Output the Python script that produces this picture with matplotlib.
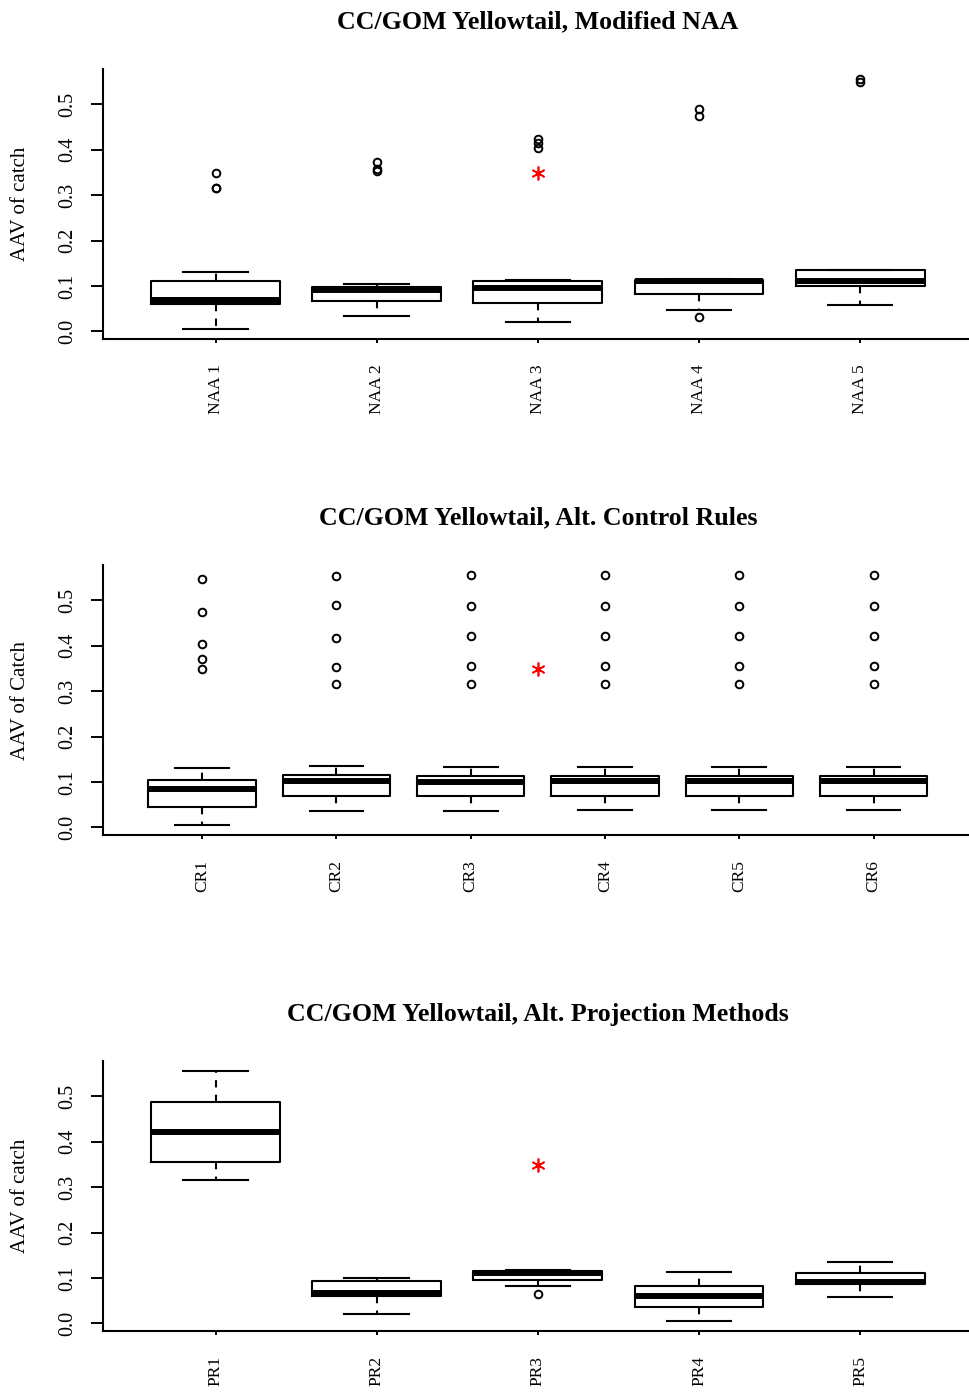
import matplotlib
matplotlib.use("Agg")
import matplotlib.pyplot as plt

plt.rcParams['font.family'] = ['Liberation Serif', 'DejaVu Serif']

# ---- data -------------------------------------------------------------
naa_labels = ["NAA 1", "NAA 2", "NAA 3", "NAA 4", "NAA 5"]
naa_whislo = [0.006, 0.034, 0.021, 0.046, 0.059]
naa_q1 = [0.060, 0.067, 0.062, 0.083, 0.100]
naa_med = [0.068, 0.092, 0.095, 0.110, 0.1115]
naa_q3 = [0.111, 0.097, 0.111, 0.114, 0.134]
naa_whishi = [0.131, 0.105, 0.112, 0.116, 0.136]
naa_fliers = [[0.348, 0.316, 0.315],
              [0.372, 0.358, 0.354],
              [0.423, 0.416, 0.405],
              [0.490, 0.475, 0.032],
              [0.557, 0.549]]

cr_labels = ["CR1", "CR2", "CR3", "CR4", "CR5", "CR6"]
cr_whislo = [0.004, 0.035, 0.036, 0.037, 0.037, 0.037]
cr_q1 = [0.044, 0.068, 0.068, 0.068, 0.068, 0.068]
cr_med = [0.084, 0.101, 0.100, 0.101, 0.101, 0.101]
cr_q3 = [0.104, 0.115, 0.112, 0.112, 0.112, 0.112]
cr_whishi = [0.130, 0.135, 0.133, 0.132, 0.132, 0.132]
cr_fliers = [[0.547, 0.474, 0.404, 0.371, 0.349],
             [0.554, 0.489, 0.418, 0.353, 0.315],
             [0.556, 0.487, 0.421, 0.356, 0.315],
             [0.556, 0.487, 0.421, 0.356, 0.315],
             [0.556, 0.487, 0.421, 0.356, 0.315],
             [0.556, 0.487, 0.421, 0.356, 0.315]]

pr_labels = ["PR1", "PR2", "PR3", "PR4", "PR5"]
pr_whislo = [0.316, 0.0205, 0.083, 0.004, 0.058]
pr_q1 = [0.356, 0.060, 0.0955, 0.036, 0.0865]
pr_med = [0.422, 0.066, 0.110, 0.060, 0.091]
pr_q3 = [0.487, 0.093, 0.116, 0.082, 0.110]
pr_whishi = [0.557, 0.100, 0.117, 0.112, 0.135]
pr_fliers = [[], [], [0.0655], [], []]

# reference value marked with a red asterisk in every panel
ref_value = 0.348

panels = [
    ("CC/GOM Yellowtail, Modified NAA", "AAV of catch", naa_labels,
     naa_whislo, naa_q1, naa_med, naa_q3, naa_whishi, naa_fliers),
    ("CC/GOM Yellowtail, Alt. Control Rules", "AAV of Catch", cr_labels,
     cr_whislo, cr_q1, cr_med, cr_q3, cr_whishi, cr_fliers),
    ("CC/GOM Yellowtail, Alt. Projection Methods", "AAV of catch", pr_labels,
     pr_whislo, pr_q1, pr_med, pr_q3, pr_whishi, pr_fliers),
]

# ---- layout -----------------------------------------------------------
W, H = 969, 1393
fig = plt.figure(figsize=(W / 100, H / 100), dpi=100)
fig.patch.set_facecolor("white")

left_px, right_px = 102.7, 973.0
tops_px = [69, 565, 1061]
panel_h_px = 270

lw = 1.5
for (title, ylab, labels, wlo, q1, med, q3, whi, fl), top in zip(panels, tops_px):
    ax = fig.add_axes([left_px / W, (H - top - panel_h_px) / H,
                       (right_px - left_px) / W, panel_h_px / H])
    n = len(labels)
    stats = []
    for i in range(n):
        stats.append(dict(whislo=wlo[i], q1=q1[i], med=med[i], q3=q3[i],
                          whishi=whi[i], fliers=fl[i], label=labels[i]))
    pos = list(range(1, n + 1))
    ax.bxp(stats, positions=pos, widths=0.8, capwidths=0.4,
           boxprops=dict(color="black", linewidth=lw),
           medianprops=dict(color="black", linewidth=4.3, solid_capstyle="butt"),
           whiskerprops=dict(color="black", linewidth=lw, linestyle=(0, (3.5, 3.5))),
           capprops=dict(color="black", linewidth=lw),
           flierprops=dict(marker="o", markersize=5.5, markerfacecolor="none",
                           markeredgecolor="black", markeredgewidth=1.4,
                           linestyle="none"))
    ax.plot([(n + 1) / 2], [ref_value], linestyle="none", marker=(6, 2, 0),
            markersize=10, markeredgewidth=1.2, color="red")

    ax.set_xlim(0.5 - 0.04 * n, n + 0.5 + 0.04 * n)
    ax.set_ylim(-0.017, 0.578)
    ax.set_yticks([0.0, 0.1, 0.2, 0.3, 0.4, 0.5])
    ax.set_yticklabels(["0.0", "0.1", "0.2", "0.3", "0.4", "0.5"])
    ax.set_xticks(pos)
    ax.set_xticklabels(labels)

    for s in ["top", "right"]:
        ax.spines[s].set_visible(False)
    for s in ["left", "bottom"]:
        ax.spines[s].set_linewidth(1.5)

    ax.tick_params(axis="y", length=9, width=1.4, pad=9, labelsize=14.5)
    ax.tick_params(axis="x", length=3, width=1.4, pad=15, labelsize=12.5,
                   labelrotation=90)
    for t in ax.get_yticklabels():
        t.set_rotation(90)
        t.set_va("center")
    for t in ax.get_xticklabels():
        t.set_va("top")
        t.set_ha("center")

    ax.set_ylabel(ylab, fontsize=15)
    ax.yaxis.set_label_coords(-0.083, 0.5)
    ax.set_title(title, fontsize=18.6, fontweight="bold", pad=29)

fig.savefig("out.png", dpi=100, facecolor="white")
